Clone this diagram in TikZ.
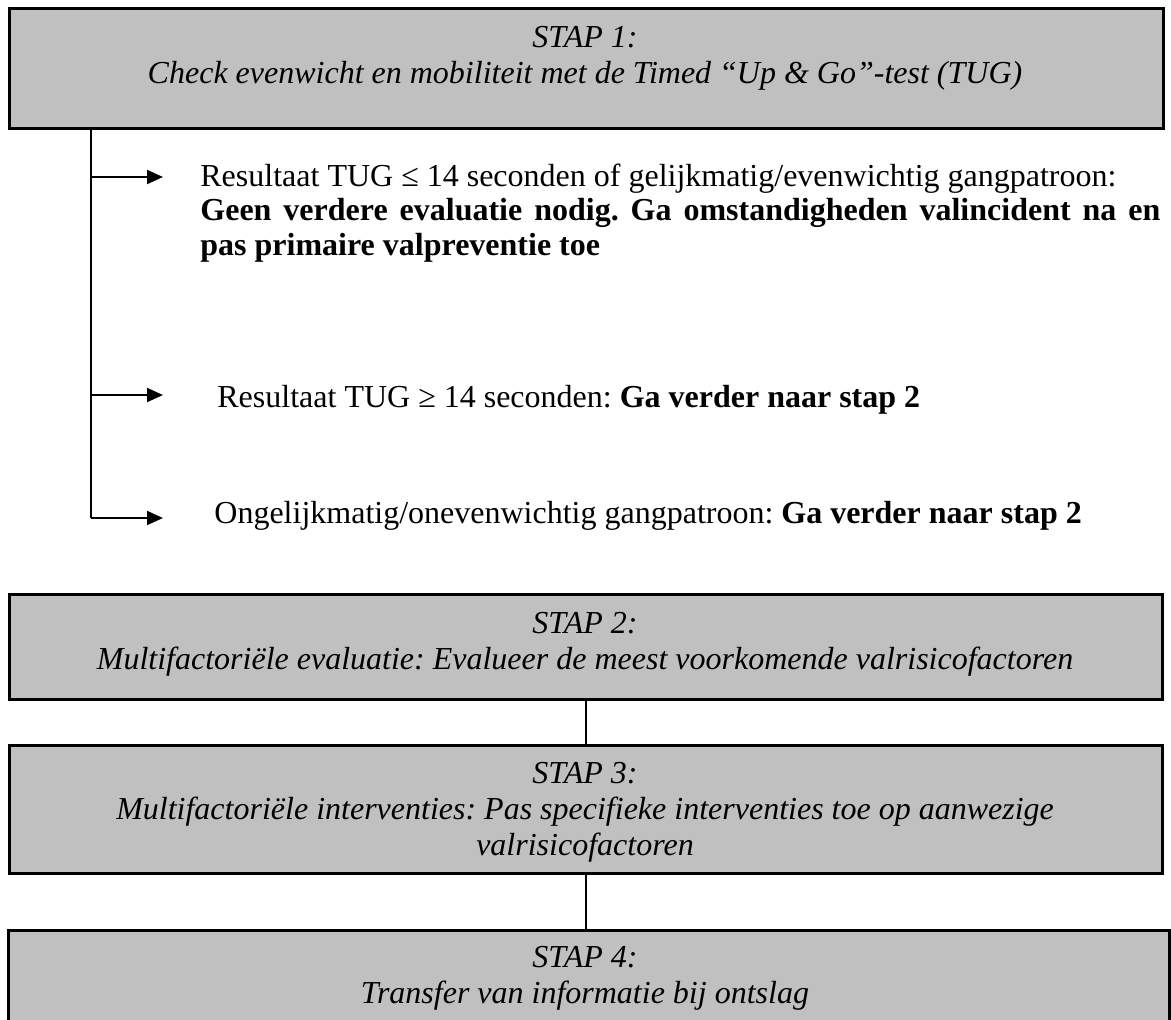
\documentclass[tikz,border=0pt]{standalone}
\usepackage{fontspec}
\setmainfont{Liberation Serif}
\usetikzlibrary{arrows.meta}
\definecolor{boxgray}{HTML}{C0C0C0}
\frenchspacing
\tikzset{
  stepbox/.style={draw=black, fill=boxgray, line width=1.4pt, rectangle, inner sep=0pt},
  boxtext/.style={align=center, inner sep=0pt, anchor=base, font=\fontsize{16}{18}\selectfont\itshape},
  bodytext/.style={inner sep=0pt, anchor=base west, font=\fontsize{16}{17.25}\selectfont},
  link/.style={line width=1pt},
  arr/.style={line width=1pt, -{Triangle[length=8pt,width=7pt]}}
}
\begin{document}
\begin{tikzpicture}[x=0.5pt,y=-0.5pt]
\useasboundingbox (0,0) rectangle (1171,1019);
% boxes
\node[stepbox, minimum width=577pt, minimum height=60pt, anchor=north west] (b1) at (8,7) {};
\node[stepbox, minimum width=576.5pt, minimum height=52.5pt, anchor=north west] (b2) at (8,593) {};
\node[stepbox, minimum width=576.5pt, minimum height=64pt, anchor=north west] (b3) at (8,744) {};
\node[stepbox, minimum width=580.5pt, minimum height=52pt, anchor=north west] (b4) at (7,929) {};
% box texts (base = baseline of last line)
\node[boxtext] (t1) at (585,83) {STAP 1:\\Check evenwicht en mobiliteit met de Timed “Up \& Go”-test (TUG)};
\node[boxtext] (t2) at (585,669) {STAP 2:\\Multifactoriële evaluatie: Evalueer de meest voorkomende valrisicofactoren};
\node[boxtext] (t3) at (585,855) {STAP 3:\\Multifactoriële interventies: Pas specifieke interventies toe op aanwezige\\valrisicofactoren};
\node[boxtext] (t4) at (585,1003) {STAP 4:\\Transfer van informatie bij ontslag};
% branch texts
\node[bodytext, text width=480pt, align=justify] (r1) at (200,186) {Resultaat TUG ≤ 14 seconden of gelijkmatig/evenwichtig gangpatroon:\\\textbf{Geen verdere evaluatie nodig. Ga omstandigheden valincident na en\linebreak pas primaire valpreventie toe}};
\node[bodytext] (r2) at (217,407) {Resultaat TUG ≥ 14 seconden: \textbf{Ga verder naar stap 2}};
\node[bodytext] (r3) at (214,523) {Ongelijkmatig/onevenwichtig gangpatroon: \textbf{Ga verder naar stap 2}};
% trunk and arrows
\coordinate (j1) at (91,177);
\coordinate (j2) at (91,395);
\coordinate (j3) at (91,518);
\coordinate (e1) at (163,177);
\coordinate (e2) at (163,395);
\coordinate (e3) at (163,518);
\draw[link] (b1.south -| j1) -- (j3);
\draw[arr] (j1) -- (e1);
\draw[arr] (j2) -- (e2);
\draw[arr] (j3) -- (e3);
% connectors between steps
\draw[link] (b2.south) -- (b3.north);
\draw[link] (b3.south) -- (b4.north -| b3.south);
\end{tikzpicture}
\end{document}
